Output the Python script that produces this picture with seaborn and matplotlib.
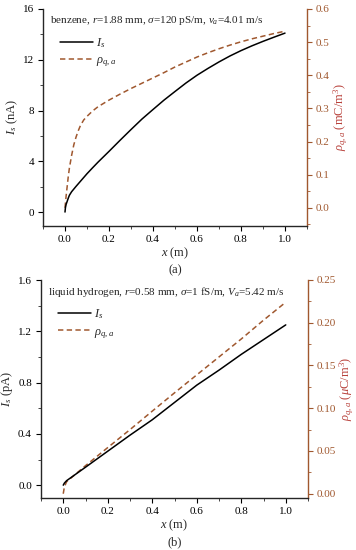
import numpy as np
import pandas as pd
import seaborn as sns
import matplotlib
matplotlib.use("Agg")
import matplotlib.pyplot as plt
from matplotlib.ticker import MultipleLocator, AutoMinorLocator
from matplotlib.lines import Line2D

# ---------------- data ----------------
# Panel (a): benzene
xa_I = [0, 0.002, 0.005, 0.01, 0.015, 0.02, 0.03, 0.05, 0.075, 0.1, 0.125, 0.15, 0.2, 0.25,
        0.3, 0.35, 0.4, 0.45, 0.5, 0.55, 0.6, 0.65, 0.7, 0.75, 0.8, 0.85, 0.9, 0.95, 1.0]
Ia = [0, 0.35, 0.6, 0.85, 1.1, 1.32, 1.6, 2.02, 2.52, 3.02, 3.48, 3.93, 4.78, 5.65,
      6.5, 7.33, 8.08, 8.82, 9.5, 10.17, 10.78, 11.32, 11.83, 12.3, 12.72, 13.1, 13.45, 13.78, 14.1]
xa_r = [0, 0.005, 0.01, 0.015, 0.02, 0.03, 0.04, 0.05, 0.06, 0.07, 0.085, 0.1, 0.125, 0.15,
        0.2, 0.25, 0.3, 0.35, 0.4, 0.45, 0.5, 0.55, 0.6, 0.65, 0.7, 0.75, 0.8, 0.85, 0.9, 0.95, 1.0]
rhoa = [0.0, 0.035, 0.065, 0.095, 0.12, 0.158, 0.19, 0.213, 0.232, 0.248, 0.265, 0.276, 0.292, 0.305,
        0.325, 0.343, 0.36, 0.376, 0.392, 0.408, 0.425, 0.44, 0.455, 0.468, 0.48, 0.491, 0.501, 0.51,
        0.518, 0.526, 0.533]

# Panel (b): liquid hydrogen
xb = [0, 0.005, 0.015, 0.1, 0.2, 0.3, 0.4, 0.5, 0.6, 0.7, 0.8, 0.9, 1.0]
Ib = [0, 0.016, 0.035, 0.14, 0.265, 0.39, 0.51, 0.645, 0.78, 0.897, 1.02, 1.135, 1.25]
rhob = [0, 0.008, 0.014, 0.0328, 0.054, 0.075, 0.0966, 0.118, 0.139, 0.160, 0.181, 0.203, 0.224]

titles = [r"benzene, $r$=1.88 mm, $\sigma$=120 pS/m, $v_a$=4.01 m/s",
          r"liquid hydrogen, $r$=0.58 mm, $\sigma$=1 fS/m, $V_a$=5.42 m/s"]
left_labels = [r"$I_s$ (nA)", r"$I_s$ (pA)"]
right_labels = [r"$\rho_{q,a}$ (mC/m$^3$)", r"$\rho_{q,a}$ ($\mu$C/m$^3$)"]
panel_tags = ["(a)", "(b)"]

# ---------------- style ----------------
sns.set_theme(style="ticks")
plt.rcParams['font.family'] = ['Liberation Serif', 'DejaVu Serif']
plt.rcParams['mathtext.fontset'] = 'custom'
plt.rcParams['mathtext.rm'] = 'Liberation Serif'
plt.rcParams['mathtext.it'] = 'Liberation Serif:italic'
plt.rcParams['mathtext.bf'] = 'Liberation Serif:bold'
plt.rcParams['axes.linewidth'] = 1.0

BROWN = '#A0582F'
RED = '#B8403A'
FS = 8

fig = plt.figure(figsize=(3.56, 5.5), dpi=100)
ax_specs = [
    [43/356, 1-226/550, 264/356, 217/550],
    [41/356, 1-498/550, 267/356, 218/550],
]
ylims_left = [(-1.1, 16), (-0.1, 1.6)]
ylims_right = [(-0.055, 0.6), (-0.005, 0.25)]
ymaj_left = [4, 0.4]
ymaj_right = [0.1, 0.05]
rfmt = ['{x:.1f}', '{x:.2f}']
lfmt = ['{x:.0f}', '{x:.1f}']

datasets = [
    (xa_I, Ia, xa_r, rhoa),
    (xb, Ib, xb, rhob),
]

for i in range(2):
    ax = fig.add_axes(ax_specs[i])
    axr = ax.twinx()
    xi, Ii, xr, rr = datasets[i]
    dI = pd.DataFrame({'x': xi, 'y': Ii})
    dr = pd.DataFrame({'x': xr, 'y': rr})
    sns.lineplot(data=dI, x='x', y='y', ax=ax, color='black', lw=1.1, legend=False)
    sns.lineplot(data=dr, x='x', y='y', ax=axr, color=BROWN, lw=1.1, legend=False)
    axr.lines[0].set_dashes([3.5, 2.2])

    ax.set_xlim(-0.1, 1.1)
    ax.set_ylim(*ylims_left[i])
    axr.set_ylim(*ylims_right[i])

    ax.xaxis.set_major_locator(MultipleLocator(0.2))
    ax.xaxis.set_minor_locator(AutoMinorLocator(2))
    ax.yaxis.set_major_locator(MultipleLocator(ymaj_left[i]))
    ax.yaxis.set_minor_locator(AutoMinorLocator(2))
    axr.yaxis.set_major_locator(MultipleLocator(ymaj_right[i]))
    axr.yaxis.set_minor_locator(AutoMinorLocator(2))
    ax.xaxis.set_major_formatter('{x:.1f}')
    ax.yaxis.set_major_formatter(lfmt[i])
    axr.yaxis.set_major_formatter(rfmt[i])

    for a in (ax, axr):
        a.spines['top'].set_visible(False)
    ax.spines['right'].set_visible(False)
    axr.spines['left'].set_visible(False)
    axr.spines['bottom'].set_visible(False)
    axr.spines['right'].set_color(BROWN)

    ax.tick_params(axis='both', which='major', direction='out', length=3.5, width=0.8,
                   labelsize=FS, colors='black', pad=3)
    ax.tick_params(axis='both', which='minor', direction='out', length=2, width=0.6)
    axr.tick_params(axis='y', which='major', direction='out', length=3.5, width=0.8,
                    labelsize=FS, colors=BROWN, pad=3)
    axr.tick_params(axis='y', which='minor', direction='out', length=2, width=0.6, colors=BROWN)

    ax.set_xlabel(r"$x$ (m)", fontsize=9, labelpad=1)
    ax.set_ylabel(left_labels[i], fontsize=9, labelpad=2)
    axr.set_ylabel(right_labels[i], fontsize=9, color=RED, labelpad=1)

    ax.text(0.025, 0.945, titles[i], transform=ax.transAxes, fontsize=8,
            va='center', ha='left')
    ax.text(0.5, -0.205, panel_tags[i], transform=ax.transAxes, fontsize=9,
            va='center', ha='center')

    h1 = Line2D([], [], color='black', lw=1.1)
    h2 = Line2D([], [], color=BROWN, lw=1.1, dashes=[3.5, 2.2])
    ax.legend([h1, h2], [r'$I_s$', r'$\rho_{q,a}$'], loc='upper left',
              bbox_to_anchor=(0.055, 0.885), frameon=False, fontsize=9,
              handlelength=2.6, handletextpad=0.3, labelspacing=0.35,
              borderaxespad=0.0, borderpad=0.2)
    ax.set_zorder(axr.get_zorder() + 1)
    ax.patch.set_visible(False)

fig.savefig('out.png', dpi=100)
